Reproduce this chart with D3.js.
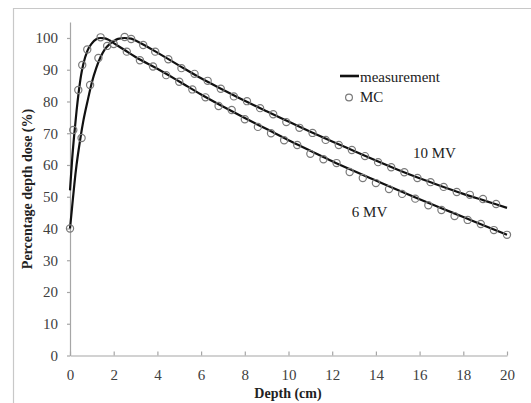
<!DOCTYPE html>
<html><head><meta charset="utf-8">
<script src="https://cdn.jsdelivr.net/npm/d3@7"></script>
<style>
html,body{margin:0;padding:0;background:#fff;}
svg{display:block;}
svg text{font-family:"Liberation Serif","Times New Roman",serif;}
</style></head>
<body>
<svg id="chart" width="531" height="403"></svg>
<script>
// ---- data ----
const lineDepth6 = [0,0.1,0.2,0.3,0.4,0.5,0.6,0.8,1.0,1.2,1.4,1.6,1.8,2,2.5,3,4,5,6,7,8,9,10,11,12,13,14,15,16,17,18,19,20];
const line6MV   = [52,62,70,77,83,88,91.5,96,98.3,99.6,100,99.9,99.3,98.4,96.2,94,90.3,86.3,82.2,78.4,74.8,71.3,67.8,64.5,61.2,58.1,55.1,52.1,49.2,46.4,43.6,40.8,38];
const lineDepth10 = [0,0.1,0.2,0.3,0.4,0.5,0.6,0.8,1.0,1.2,1.4,1.6,1.8,2.0,2.2,2.5,2.8,3,3.5,4,5,6,7,8,9,10,11,12,13,14,15,16,17,18,19,20];
const line10MV    = [40,47,54,60,65,69.5,73.5,80,86,90.5,94,96.5,98,99,99.7,100,99.8,99.2,97.4,95.4,91.3,87.3,83.7,80.2,76.9,73.7,70.5,67.4,64.4,61.4,58.5,55.8,53.3,50.9,48.7,46.5];

const mcDepth6 = [0.15,0.38,0.56,0.79,1.4,2.0,2.6,3.2,3.8,4.4,5.0,5.6,6.2,6.8,7.4,8.0,8.6,9.2,9.8,10.4,11.0,11.6,12.2,12.8,13.4,14.0,14.6,15.2,15.8,16.4,17.0,17.6,18.2,18.8,19.4,20.0];
const mc6MV    = [71,83.6,91.5,96.4,100.2,98.1,95.7,93.0,91.0,88.3,86.2,83.8,81.3,78.6,77.3,74.4,72.0,70.0,67.8,66.3,63.5,61.8,60.6,57.8,55.9,54.3,52.4,50.9,49.4,47.3,45.8,43.9,42.7,41.4,39.5,38.0];
const mcDepth10 = [0,0.53,0.92,1.3,1.7,2.5,2.8,3.35,3.9,4.5,5.1,5.7,6.3,6.9,7.5,8.1,8.7,9.3,9.9,10.5,11.1,11.7,12.3,12.9,13.5,14.1,14.7,15.3,15.9,16.5,17.1,17.7,18.3,18.9,19.5];
const mc10MV    = [40,68.5,85.2,93.7,97.5,100.3,99.7,97.8,95.7,93.3,90.5,88.7,86.5,84.0,81.6,80.1,77.9,76.0,73.5,71.7,70.1,67.9,66.3,64.7,62.8,60.9,59.3,57.7,55.9,54.6,53.1,51.5,50.6,49.3,47.7];

const xTicks = [0,2,4,6,8,10,12,14,16,18,20];
const yTicks = [0,10,20,30,40,50,60,70,80,90,100];
const xTitle = "Depth (cm)";
const yTitle = "Percentage depth dose (%)";
const legendLabels = ["measurement","MC"];
const seriesLabels = ["10 MV","6 MV"];

// ---- chart ----
const svg = d3.select("#chart");
const font = "Liberation Serif, Times New Roman, serif";
const x = d3.scaleLinear().domain([0,20]).range([70,507]);
const y = d3.scaleLinear().domain([0,105]).range([355.5,22.1]);

// outer frame (cropped)
svg.append("path").attr("d","M13.5,410 L13.5,8.5 L540,8.5")
  .attr("fill","none").attr("stroke","#c8c8c8").attr("stroke-width",1.2);

// axes
const yAxis = d3.axisLeft(y).tickValues(yTicks).tickSize(3).tickSizeOuter(0).tickPadding(9);
const gy = svg.append("g").attr("transform","translate(70,0)").call(yAxis);
const xAxis = d3.axisBottom(x).tickValues(xTicks).tickSize(-4).tickSizeOuter(0).tickPadding(14);
const gx = svg.append("g").attr("transform","translate(0,355.5)").call(xAxis);
[gx,gy].forEach(g=>{
  g.attr("font-family",font).attr("font-size",15);
  g.select(".domain").attr("stroke","#a6a6a6").attr("stroke-width",1.2);
  g.selectAll(".tick line").attr("stroke","#a6a6a6").attr("stroke-width",1.2);
  g.selectAll(".tick text").attr("fill","#404040").attr("font-family",font).attr("font-size",15);
});

// lines
const lineGen = d3.line().x(d=>x(d[0])).y(d=>y(d[1])).curve(d3.curveMonotoneX);
const series = [
  {lx: lineDepth6, ly: line6MV, mx: mcDepth6, my: mc6MV},
  {lx: lineDepth10, ly: line10MV, mx: mcDepth10, my: mc10MV}
];
series.forEach(s=>{
  svg.append("path").datum(d3.zip(s.lx, s.ly)).attr("d", lineGen)
    .attr("fill","none").attr("stroke","#111").attr("stroke-width",2.2);
});
series.forEach(s=>{
  svg.append("g").selectAll("circle").data(d3.zip(s.mx, s.my)).join("circle")
    .attr("cx",d=>x(d[0])).attr("cy",d=>y(d[1])).attr("r",3.6)
    .attr("fill","none").attr("stroke","#7a7a7a").attr("stroke-width",1.2);
});

// series labels
svg.append("text").attr("x",x(15.7)).attr("y",y(62.2)).text(seriesLabels[0])
  .attr("font-family",font).attr("font-size",15).attr("fill","#222");
svg.append("text").attr("x",x(12.9)).attr("y",y(43.6)).text(seriesLabels[1])
  .attr("font-family",font).attr("font-size",15).attr("fill","#222");

// legend
svg.append("line").attr("x1",340).attr("x2",359).attr("y1",76).attr("y2",76)
  .attr("stroke","#111").attr("stroke-width",2.6);
svg.append("text").attr("x",360).attr("y",81.5).text(legendLabels[0])
  .attr("font-family",font).attr("font-size",15).attr("fill","#222");
svg.append("circle").attr("cx",349).attr("cy",97.5).attr("r",3.4)
  .attr("fill","none").attr("stroke","#7a7a7a").attr("stroke-width",1.2);
svg.append("text").attr("x",360).attr("y",102).text(legendLabels[1])
  .attr("font-family",font).attr("font-size",15).attr("fill","#222");

// axis titles
svg.append("text").attr("x",288).attr("y",398).attr("text-anchor","middle").text(xTitle)
  .attr("font-family",font).attr("font-size",14).attr("font-weight","bold").attr("fill","#222");
svg.append("text").attr("transform","translate(32,189) rotate(-90)").attr("text-anchor","middle").text(yTitle)
  .attr("font-family",font).attr("font-size",14).attr("font-weight","bold").attr("fill","#222");
</script>
</body></html>
